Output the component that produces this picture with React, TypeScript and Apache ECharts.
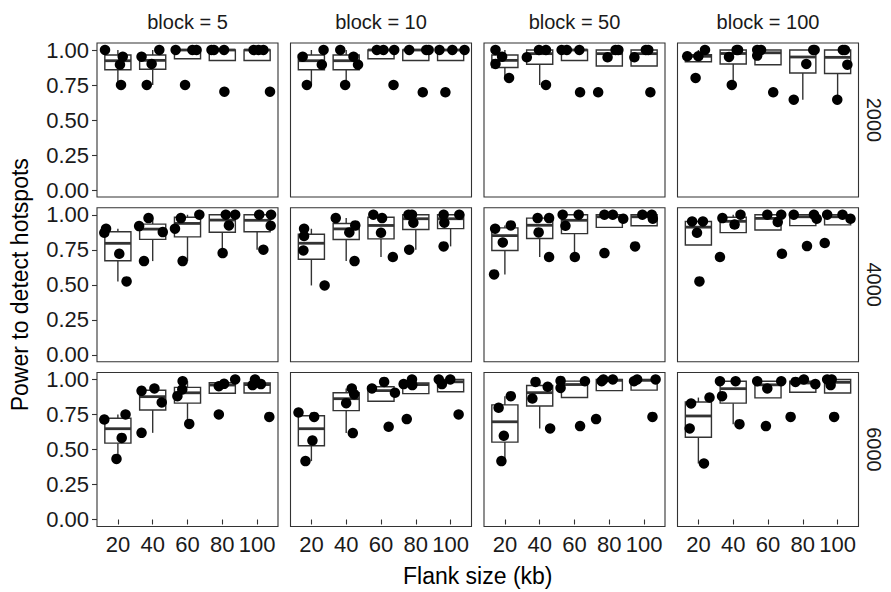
import React, { useEffect, useRef } from "react";
import * as echarts from "echarts";

// ---------- data ----------
const flankSizes = [20, 40, 60, 80, 100];
const blockSizes = [5, 10, 50, 100];
const hotspotCounts = [2000, 4000, 6000];
const yTickValues = [0, 0.25, 0.5, 0.75, 1];

// each panel: one list per flank size of [jitter offset (in category widths), power]
const h2000_b5 = [
  [[-0.37, 1.0], [0.14, 0.952], [0.06, 0.895], [0.09, 0.75]],
  [[-0.32, 0.952], [0.19, 1.0], [-0.03, 0.9], [-0.17, 0.75]],
  [[-0.34, 1.0], [0.14, 1.0], [0.26, 1.0], [-0.07, 0.75]],
  [[-0.31, 1.0], [-0.24, 1.0], [0.05, 1.0], [0.06, 0.702]],
  [[-0.1, 1.0], [0.04, 1.0], [0.18, 1.0], [0.37, 0.702]],
];
const h2000_b10 = [
  [[-0.25, 0.952], [0.35, 1.0], [0.3, 0.895], [-0.13, 0.75]],
  [[-0.17, 1.0], [0.21, 0.952], [0.34, 0.895], [-0.03, 0.75]],
  [[-0.12, 1.0], [0.07, 1.0], [0.38, 1.0], [0.36, 0.75]],
  [[-0.19, 1.0], [0.3, 1.0], [0.37, 1.0], [0.2, 0.698]],
  [[-0.32, 1.0], [0.05, 1.0], [0.4, 1.0], [-0.15, 0.698]],
];
const h2000_b50 = [
  [[-0.27, 1.0], [-0.08, 0.952], [-0.27, 0.9], [0.12, 0.8]],
  [[-0.37, 0.948], [-0.02, 1.0], [0.18, 1.0], [0.18, 0.75]],
  [[-0.37, 1.0], [-0.22, 1.0], [0.14, 1.0], [0.16, 0.698]],
  [[-0.05, 0.948], [0.26, 1.0], [0.18, 1.0], [-0.32, 0.698]],
  [[-0.28, 0.948], [0.12, 1.0], [0.05, 1.0], [0.18, 0.698]],
];
const h2000_b100 = [
  [[-0.32, 0.955], [0.0, 0.955], [0.19, 1.0], [-0.08, 0.8]],
  [[-0.12, 0.95], [0.14, 1.0], [0.1, 1.0], [-0.04, 0.75]],
  [[-0.31, 1.0], [-0.31, 0.96], [-0.2, 1.0], [0.15, 0.698]],
  [[0.34, 1.0], [0.1, 0.9], [0.3, 1.0], [-0.26, 0.645]],
  [[0.21, 1.0], [0.28, 0.895], [0.15, 1.0], [-0.01, 0.645]],
];
const h4000_b5 = [
  [[-0.34, 0.9], [-0.39, 0.871], [0.04, 0.721], [0.25, 0.524]],
  [[-0.12, 0.976], [-0.39, 0.919], [0.29, 0.876], [-0.25, 0.669]],
  [[-0.19, 0.976], [0.34, 1.0], [-0.36, 0.9], [-0.14, 0.669]],
  [[0.1, 1.0], [0.37, 1.0], [0.19, 0.924], [0.01, 0.726]],
  [[0.06, 1.0], [0.4, 1.0], [0.39, 0.921], [0.18, 0.75]],
];
const h4000_b10 = [
  [[-0.21, 0.9], [-0.21, 0.848], [-0.23, 0.745], [0.38, 0.495]],
  [[-0.3, 0.976], [0.26, 0.924], [0.09, 0.874], [0.24, 0.669]],
  [[-0.22, 1.0], [0.03, 0.976], [0.0, 0.871], [0.34, 0.698]],
  [[-0.21, 1.0], [-0.11, 1.0], [-0.07, 0.943], [-0.19, 0.75]],
  [[-0.2, 1.0], [0.25, 1.0], [-0.18, 0.943], [-0.2, 0.774]],
];
const h4000_b50 = [
  [[-0.28, 0.9], [0.17, 0.924], [-0.06, 0.802], [-0.31, 0.574]],
  [[-0.06, 0.976], [0.27, 0.976], [-0.03, 0.874], [0.27, 0.698]],
  [[-0.34, 1.0], [0.12, 1.0], [-0.26, 0.921], [0.01, 0.698]],
  [[-0.14, 1.0], [0.1, 1.0], [0.4, 0.971], [-0.14, 0.726]],
  [[-0.05, 1.0], [0.22, 1.0], [0.25, 0.971], [-0.26, 0.774]],
];
const h4000_b100 = [
  [[-0.18, 0.952], [0.13, 0.952], [-0.04, 0.871], [0.03, 0.524]],
  [[-0.31, 0.976], [0.21, 1.0], [0.04, 0.93], [-0.38, 0.698]],
  [[-0.02, 1.0], [0.38, 1.0], [0.28, 0.948], [0.4, 0.721]],
  [[-0.26, 1.0], [0.32, 1.0], [0.4, 0.971], [0.12, 0.776]],
  [[-0.3, 1.0], [0.14, 1.0], [0.37, 0.971], [-0.37, 0.798]],
];
const h6000_b5 = [
  [[-0.39, 0.714], [0.22, 0.75], [0.11, 0.583], [-0.04, 0.433]],
  [[-0.32, 0.919], [0.05, 0.936], [0.26, 0.836], [-0.32, 0.619]],
  [[-0.14, 0.988], [-0.15, 0.929], [-0.29, 0.881], [0.05, 0.683]],
  [[-0.1, 0.952], [0.05, 0.969], [0.37, 1.0], [-0.1, 0.75]],
  [[-0.06, 1.0], [-0.13, 0.96], [0.11, 0.967], [0.35, 0.733]],
];
const h6000_b10 = [
  [[-0.37, 0.764], [0.08, 0.733], [0.03, 0.564], [-0.17, 0.417]],
  [[0.16, 0.936], [0.23, 0.895], [0.0, 0.831], [0.19, 0.617]],
  [[-0.26, 0.936], [0.09, 0.983], [0.4, 0.905], [0.22, 0.662]],
  [[-0.35, 0.967], [-0.11, 1.0], [-0.1, 0.96], [-0.26, 0.717]],
  [[-0.34, 1.0], [-0.01, 1.0], [-0.25, 0.967], [0.23, 0.75]],
];
const h6000_b50 = [
  [[-0.18, 0.798], [0.17, 0.881], [-0.03, 0.598], [-0.1, 0.417]],
  [[-0.12, 0.983], [0.23, 0.948], [-0.21, 0.864], [0.3, 0.65]],
  [[-0.4, 0.99], [-0.4, 0.94], [0.3, 0.988], [0.16, 0.667]],
  [[-0.22, 0.988], [-0.17, 1.0], [0.1, 1.0], [-0.38, 0.717]],
  [[-0.29, 0.988], [0.33, 1.0], [-0.2, 1.0], [0.24, 0.733]],
];
const h6000_b100 = [
  [[-0.21, 0.829], [0.32, 0.871], [-0.25, 0.65], [0.16, 0.4]],
  [[-0.38, 0.988], [0.07, 0.988], [-0.32, 0.881], [0.18, 0.681]],
  [[-0.31, 0.988], [-0.02, 0.936], [0.38, 0.988], [-0.06, 0.667]],
  [[-0.21, 0.983], [0.03, 1.0], [0.36, 0.967], [-0.35, 0.733]],
  [[-0.3, 1.0], [-0.17, 1.0], [-0.2, 0.96], [-0.1, 0.733]],
];

const panelData = [
  [h2000_b5, h2000_b10, h2000_b50, h2000_b100],
  [h4000_b5, h4000_b10, h4000_b50, h4000_b100],
  [h6000_b5, h6000_b10, h6000_b50, h6000_b100],
];

// ---------- layout / style ----------
const W = 891;
const H = 592;
const PANEL_LEFT = 97;
const PANEL_COL_STEP = 193.5;
const PANEL_W = 181;
const PANEL_TOP = 43;
const PANEL_ROW_STEP = 164.75;
const PANEL_H = 154;
const FONT = "'Liberation Sans', Arial, Helvetica, sans-serif";
const TEXT_COLOR = "#1a1a1a";
const LINE_COLOR = "#333333";
const TICK_FONT = 22;
const STRIP_FONT = 20;
const TITLE_FONT = 23;
const CAT_STEP = 20; // kb between categories
const BOX_FRAC = 0.75;

function quantile(sorted: number[], p: number) {
  const h = (sorted.length - 1) * p;
  const lo = Math.floor(h);
  const hi = Math.ceil(h);
  return sorted[lo] + (h - lo) * (sorted[hi] - sorted[lo]);
}

function boxStats(values: number[]) {
  const s = [...values].sort((a, b) => a - b);
  const q1 = quantile(s, 0.25);
  const med = quantile(s, 0.5);
  const q3 = quantile(s, 0.75);
  const iqr = q3 - q1;
  const inside = s.filter((v) => v >= q1 - 1.5 * iqr - 1e-9 && v <= q3 + 1.5 * iqr + 1e-9);
  const lo = Math.min(q1, ...inside);
  const hi = Math.max(q3, ...inside);
  return [lo, q1, med, q3, hi];
}

function centeredText(x: number, y: number, text: string, size: number, fill: string, rotation = 0) {
  return {
    type: "text",
    x,
    y,
    rotation,
    style: {
      text,
      fill,
      fontSize: size,
      fontFamily: FONT,
      align: "center",
      verticalAlign: "middle",
      textAlign: "center",
      textVerticalAlign: "middle",
    },
  };
}

function buildOption() {
  const grid: any[] = [];
  const xAxis: any[] = [];
  const yAxis: any[] = [];
  const series: any[] = [];
  const graphic: any[] = [];

  for (let r = 0; r < hotspotCounts.length; r++) {
    for (let c = 0; c < blockSizes.length; c++) {
      const idx = r * blockSizes.length + c;
      const left = PANEL_LEFT + c * PANEL_COL_STEP;
      const top = PANEL_TOP + r * PANEL_ROW_STEP;
      grid.push({
        left,
        top,
        width: PANEL_W,
        height: PANEL_H,
        show: true,
        borderColor: LINE_COLOR,
        borderWidth: 1.1,
        backgroundColor: "#ffffff",
      });
      const bottomRow = r === hotspotCounts.length - 1;
      const leftCol = c === 0;
      xAxis.push({
        type: "value",
        gridIndex: idx,
        min: flankSizes[0] - 0.6 * CAT_STEP,
        max: flankSizes[flankSizes.length - 1] + 0.6 * CAT_STEP,
        axisLine: { show: false },
        splitLine: { show: false },
        axisTick: {
          show: bottomRow,
          customValues: flankSizes,
          length: 5,
          lineStyle: { color: LINE_COLOR, width: 1.1 },
        },
        axisLabel: {
          show: bottomRow,
          customValues: flankSizes,
          formatter: (v: number) => String(v),
          fontSize: TICK_FONT,
          fontFamily: FONT,
          color: TEXT_COLOR,
          margin: 7,
        },
      });
      yAxis.push({
        type: "value",
        gridIndex: idx,
        min: -0.05,
        max: 1.05,
        axisLine: { show: false },
        splitLine: { show: false },
        axisTick: {
          show: leftCol,
          customValues: yTickValues,
          length: 5,
          lineStyle: { color: LINE_COLOR, width: 1.1 },
        },
        axisLabel: {
          show: leftCol,
          customValues: yTickValues,
          formatter: (v: number) => v.toFixed(2),
          fontSize: TICK_FONT,
          fontFamily: FONT,
          color: TEXT_COLOR,
          margin: 8,
        },
      });

      const groups = panelData[r][c];
      const boxData = groups.map((g, i) => [flankSizes[i], ...boxStats(g.map((p) => p[1]))]);
      const pointData: number[][] = [];
      groups.forEach((g, i) => {
        g.forEach((p) => pointData.push([flankSizes[i] + p[0] * CAT_STEP, p[1]]));
      });

      series.push({
        type: "custom",
        xAxisIndex: idx,
        yAxisIndex: idx,
        data: boxData,
        encode: { x: 0, y: [1, 2, 3, 4, 5] },
        renderItem: (params: any, api: any) => {
          const x = api.value(0);
          const lo = api.coord([x, api.value(1)]);
          const q1 = api.coord([x, api.value(2)]);
          const med = api.coord([x, api.value(3)]);
          const q3 = api.coord([x, api.value(4)]);
          const hi = api.coord([x, api.value(5)]);
          const half = api.size([CAT_STEP * BOX_FRAC, 0])[0] / 2;
          const cx = q1[0];
          const stroke = { stroke: LINE_COLOR, lineWidth: 1.4, fill: null };
          return {
            type: "group",
            children: [
              { type: "line", shape: { x1: cx, y1: q3[1], x2: cx, y2: hi[1] }, style: stroke },
              { type: "line", shape: { x1: cx, y1: q1[1], x2: cx, y2: lo[1] }, style: stroke },
              {
                type: "rect",
                shape: { x: cx - half, y: q3[1], width: half * 2, height: q1[1] - q3[1] },
                style: { stroke: LINE_COLOR, lineWidth: 1.4, fill: "#ffffff" },
              },
              {
                type: "line",
                shape: { x1: cx - half, y1: med[1], x2: cx + half, y2: med[1] },
                style: { stroke: LINE_COLOR, lineWidth: 2.8 },
              },
            ],
          };
        },
        z: 2,
      });
      series.push({
        type: "scatter",
        xAxisIndex: idx,
        yAxisIndex: idx,
        data: pointData,
        symbol: "circle",
        symbolSize: 10.5,
        itemStyle: { color: "#000000", opacity: 1 },
        z: 3,
      });

      if (r === 0) {
        graphic.push(centeredText(left + PANEL_W / 2, 22, `block = ${blockSizes[c]}`, STRIP_FONT, TEXT_COLOR));
      }
      if (c === blockSizes.length - 1) {
        graphic.push(
          centeredText(left + PANEL_W + 15, top + PANEL_H / 2, String(hotspotCounts[r]), STRIP_FONT, TEXT_COLOR, -Math.PI / 2)
        );
      }
    }
  }

  const plotBottom = PANEL_TOP + 2 * PANEL_ROW_STEP + PANEL_H;
  const plotRight = PANEL_LEFT + 3 * PANEL_COL_STEP + PANEL_W;
  graphic.push(centeredText((PANEL_LEFT + plotRight) / 2, 576, "Flank size (kb)", TITLE_FONT, "#000000"));
  graphic.push(
    centeredText(20, (PANEL_TOP + plotBottom) / 2, "Power to detect hotspots", TITLE_FONT, "#000000", Math.PI / 2)
  );

  return {
    animation: false,
    backgroundColor: "#ffffff",
    grid,
    xAxis,
    yAxis,
    series,
    graphic,
  };
}

export default function App() {
  const ref = useRef<HTMLDivElement>(null);
  useEffect(() => {
    document.body.style.margin = "0";
    if (!ref.current) return;
    const chart = echarts.init(ref.current, null, { renderer: "svg" });
    chart.setOption(buildOption() as any);
    return () => chart.dispose();
  }, []);
  return <div ref={ref} style={{ width: W, height: H }} />;
}
